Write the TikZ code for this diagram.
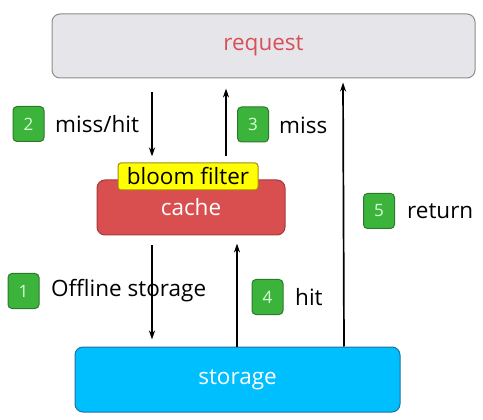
\documentclass[tikz,border=0pt]{standalone}
\usepackage{fontspec}
\setmainfont{Open Sans}
\usetikzlibrary{arrows.meta}
\definecolor{reqfill}{HTML}{E6E6EA}
\definecolor{reqline}{HTML}{8C8C8C}
\definecolor{reqtext}{HTML}{D6505A}
\definecolor{cachefill}{HTML}{D94F50}
\definecolor{cacheline}{HTML}{A83838}
\definecolor{bloomfill}{HTML}{FFFF00}
\definecolor{bloomline}{HTML}{A08A10}
\definecolor{storfill}{HTML}{00BFFF}
\definecolor{storline}{HTML}{2070A0}
\definecolor{badgefill}{HTML}{3CB43C}
\definecolor{badgeline}{HTML}{2A7A2A}
\tikzset{
  box/.style={draw, line width=1pt, rounded corners=8pt, inner sep=0pt},
  big/.style={font=\fontsize{22.5}{22.5}\selectfont},
  badge/.style={draw=badgeline, fill=badgefill, line width=1pt, rounded corners=4pt,
    minimum width=31pt, minimum height=35pt, inner sep=0pt, text=white!85!green,
    font=\fontsize{17}{17}\selectfont},
  lbl/.style={anchor=west, inner sep=0pt, big},
  arr/.style={line width=1.7pt, -{Stealth[length=9pt,width=6pt]}}
}
\begin{document}
\begin{tikzpicture}[x=1pt,y=-1pt]
\useasboundingbox (0,0) rectangle (483,420);
\node[box, draw=reqline, fill=reqfill, minimum width=423pt, minimum height=64pt,
  text=reqtext, big] (request) at (263.5,46) {request};
\node[box, draw=cacheline, fill=cachefill, minimum width=188pt, minimum height=55pt,
  text=white, big] (cache) at (191,207.5) {\raisebox{-6pt}{cache}};
\node[draw=bloomline, fill=bloomfill, line width=1pt, rounded corners=3pt,
  minimum width=140pt, minimum height=27pt, inner sep=0pt, big] (bloom) at (188,176.5) {bloom filter};
\node[box, draw=storline, fill=storfill, minimum width=325pt, minimum height=65pt,
  text=white, big] (storage) at (237.5,379.5) {storage};

\node[badge] (b2) at (28.5,124) {2};
\node[lbl] (l2) at (55,124) {miss/hit};
\node[badge] (b3) at (253,124.5) {3};
\node[lbl] (l3) at (279,125) {miss};
\node[badge] (b1) at (23.5,291) {1};
\node[lbl] (l1) at (51,291) {Offline storage};
\node[badge] (b4) at (267.5,297) {4};
\node[lbl] (l4) at (295,297) {hit};
\node[badge] (b5) at (379,211) {5};
\node[lbl] (l5) at (407,211) {return};

\draw[arr, shorten <=14pt, shorten >=6pt] (152,0 |- request.south) -- (152,0 |- bloom.north);
\draw[arr, shorten <=6pt, shorten >=10pt] (226,0 |- bloom.north) -- (226,0 |- request.south);
\draw[arr, shorten <=10pt, shorten >=7pt] (152,0 |- cache.south) -- (152,0 |- storage.north);
\draw[arr, shorten >=8pt] (237,0 |- storage.north) -- (237,0 |- cache.south);
\draw[arr, shorten >=4pt] (344,0 |- storage.north) -- (343,0 |- request.south);
\end{tikzpicture}
\end{document}
